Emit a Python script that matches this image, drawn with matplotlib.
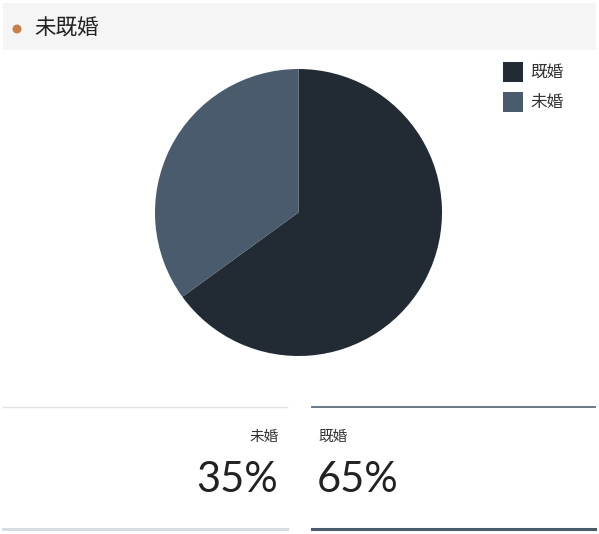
import matplotlib.pyplot as plt
from matplotlib.patches import Rectangle, Circle

title = '未既婚'
labels = ['既婚', '未婚']
shares = [65, 35]
colors = ['#222a33', '#4a5b6d']

plt.rcParams['font.family'] = ['Noto Sans CJK JP', 'DejaVu Sans']

W, H = 599, 534
fig = plt.figure(figsize=(W/100, H/100), dpi=100)

# background layer in pixel coords
bg = fig.add_axes([0, 0, 1, 1])
bg.set_xlim(0, W)
bg.set_ylim(H, 0)
bg.axis('off')

bg.add_patch(Rectangle((3, 3), 593, 47, color='#f5f5f5', lw=0))
bg.add_patch(Circle((17, 29), 4.5, color='#c8804a', lw=0))
bg.text(34, 29, title, fontsize=15.5, va='center', ha='left', color='#222222')

# pie
cx, cy, r = 298.5, 212.5, 143.5
ax = fig.add_axes([(cx-r)/W, 1-(cy+r)/H, 2*r/W, 2*r/H])
ax.pie(shares, colors=colors, startangle=90, counterclock=False,
       wedgeprops=dict(linewidth=0))
ax.set_xlim(-1, 1)
ax.set_ylim(-1, 1)
ax.set_aspect('equal')

# legend
for i, (lab, c) in enumerate(zip(labels, colors)):
    y = 62 + 30*i
    bg.add_patch(Rectangle((503, y), 20, 20, color=c, lw=0))
    bg.text(530, y+10, lab, fontsize=12, va='center', ha='left', color='#333333')

# bottom summary boxes
bg.plot([3, 287], [407, 407], color='#dfe4e8', lw=1)
bg.plot([312, 595], [407, 407], color='#5f6e7d', lw=1.3)
bg.plot([3, 287], [528.5, 528.5], color='#d9dde1', lw=2.2)
bg.plot([312, 595], [528.5, 528.5], color='#4a5b6d', lw=2.2)

bg.text(279, 437, labels[1], fontsize=10.5, ha='right', va='center', color='#333333')
bg.text(318, 437, labels[0], fontsize=10.5, ha='left', va='center', color='#333333')
bg.text(278, 492, f'{shares[1]}%', fontsize=30, ha='right', va='baseline',
        color='#222222', family='Lato', weight='normal')
bg.text(317, 492, f'{shares[0]}%', fontsize=30, ha='left', va='baseline',
        color='#222222', family='Lato', weight='normal')

fig.savefig('out.png', dpi=100)
